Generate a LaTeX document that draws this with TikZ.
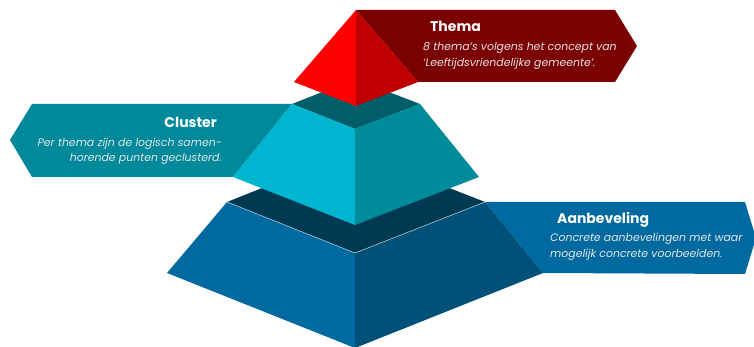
\documentclass[tikz,border=0pt]{standalone}
\usepackage{fontspec}
\setmainfont{Poppins}
\definecolor{redL}{HTML}{FF0000}
\definecolor{redR}{HTML}{C00000}
\definecolor{redB}{HTML}{7B0000}
\definecolor{tealT}{HTML}{005E6B}
\definecolor{cyanL}{HTML}{00B5CF}
\definecolor{cyanR}{HTML}{008B9A}
\definecolor{cyanB}{HTML}{00899A}
\definecolor{blueT}{HTML}{003A52}
\definecolor{blueL}{HTML}{006AA0}
\definecolor{blueR}{HTML}{00517A}
\definecolor{blueB}{HTML}{006AA0}
\definecolor{subtxt}{HTML}{E6E6E6}
\tikzset{
  headtxt/.style={font=\fontsize{14}{16}\selectfont\bfseries, text=white, inner sep=0pt},
  bodytxt/.style={font=\fontsize{10.9}{12}\selectfont\itshape, text=subtxt, inner sep=0pt},
  edgeline/.style={draw=white!75!blueT, line width=0.5pt}
}
\begin{document}
\begin{tikzpicture}[x=1pt,y=-1pt]
\useasboundingbox (0,0) rectangle (754,347);
% ---------- bottom level ----------
\coordinate (bTL) at (227,202);
\coordinate (bTR) at (485,202);
\coordinate (bTF) at (355,253);
\coordinate (bTB) at (355,151);
\coordinate (bBL) at (167,273);
\coordinate (bBR) at (543,273);
\coordinate (bBF) at (355,348);
\fill[blueB] (bTR) -- (745,202) -- (756,238) -- (745,274) -- (bBR) -- cycle;
\fill[blueT] (bTL) -- (bTB) -- (bTR) -- (bTF) -- cycle;
\fill[blueL] (bTL) -- (bTF) -- (bBF) -- (bBL) -- cycle;
\fill[blueR] (bTR) -- (bTF) -- (bBF) -- (bBR) -- cycle;
\draw[edgeline] (bTL) -- (bTF) -- (bTR);
% ---------- middle level ----------
\coordinate (mTL) at (292,104);
\coordinate (mTR) at (420,104);
\coordinate (mTF) at (355,129);
\coordinate (mTB) at (355,79);
\coordinate (mBL) at (233,177);
\coordinate (mBR) at (479,177);
\coordinate (mBF) at (355,225);
\fill[cyanB] (mTL) -- (32,104) -- (10,140) -- (32,177) -- (mBL) -- cycle;
\fill[tealT] (mTL) -- (mTB) -- (mTR) -- (mTF) -- cycle;
\fill[cyanL] (mTL) -- (mTF) -- (mBF) -- (mBL) -- cycle;
\fill[cyanR] (mTR) -- (mTF) -- (mBF) -- (mBR) -- cycle;
% ---------- top level ----------
\coordinate (tA) at (356,10);
\coordinate (tL) at (294,82);
\coordinate (tF) at (356,106);
\coordinate (tR) at (418,82);
\fill[redB] (tA) -- (615,10) -- (637,46) -- (615,82) -- (tR) -- cycle;
\fill[redL] (tA) -- (tL) -- (tF) -- cycle;
\fill[redR] (tA) -- (tF) -- (tR) -- cycle;
% ---------- texts ----------
\node[headtxt, anchor=base west] (themaH) at (430,32) {Thema};
\node[bodytxt, anchor=base west] (themaA) at (423,51) {8 thema’s volgens het concept van};
\node[bodytxt, anchor=base west] (themaB) at (423,67) {‘Leeftijdsvriendelijke gemeente’.};
\node[headtxt, anchor=base east] (clusterH) at (217,128) {Cluster};
\node[bodytxt, anchor=base east] (clusterA) at (222,147) {Per thema zijn de logisch samen-};
\node[bodytxt, anchor=base east] (clusterB) at (222,162) {horende punten geclusterd.};
\node[headtxt, anchor=base west] (aanH) at (557,224) {Aanbeveling};
\node[bodytxt, anchor=base west] (aanA) at (550,241) {Concrete aanbevelingen met waar};
\node[bodytxt, anchor=base west] (aanB) at (550,258) {mogelijk concrete voorbeelden.};
\end{tikzpicture}
\end{document}
